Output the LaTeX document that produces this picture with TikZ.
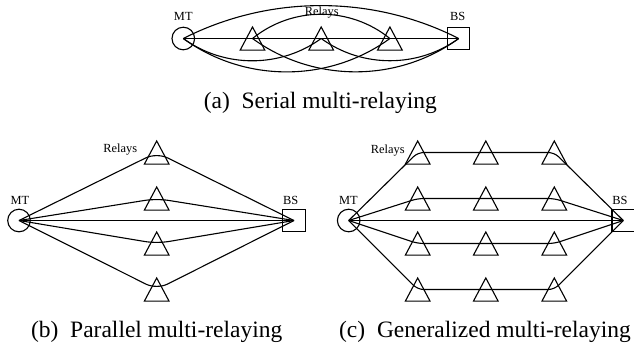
\documentclass[tikz,border=0pt]{standalone}
\usepackage{fontspec}
\setmainfont{Liberation Serif}
\begin{document}
\begin{tikzpicture}[x=0.5pt, y=-0.5pt, line width=0.55pt,
  mtnode/.style={circle, draw, minimum size=11.3pt, inner sep=0pt},
  bsnode/.style={rectangle, draw, minimum size=11.25pt, inner sep=0pt},
  relay/.style={rectangle, minimum width=11.75pt, minimum height=11pt, inner sep=0pt},
  lbl/.style={font=\fontsize{6.2}{7}\selectfont, inner sep=0pt, anchor=base},
  captext/.style={font=\fontsize{11.75}{14}\selectfont, inner sep=0pt, anchor=base},
  conn/.style={line width=0.55pt}]
\useasboundingbox (0,0) rectangle (634,345);

% ---------- (a) serial multi-relaying ----------
\node[mtnode] (mt1) at (183.3,38.5) {};
\node[bsnode] (bs1) at (458.7,38.5) {};
\node[relay] (r1) at (252.5,38.5) {};
\node[relay] (r2) at (321.2,38.5) {};
\node[relay] (r3) at (389.9,38.5) {};
\node[lbl] (mt1l) at (183.3,20.7) {MT};
\node[lbl] (bs1l) at (457.7,20.7) {BS};
\node[lbl] (rel1) at (321.7,15.5) {Relays};

\draw[conn] (mt1.center) -- (bs1.center);
\draw[conn] (mt1.center) to[bend left=27, looseness=0.9] (bs1.center);
\draw[conn] (r1.center) to[bend left=39, looseness=0.96] (r3.center);
\draw[conn] (mt1.center) to[bend right=36, looseness=0.94] (r2.center);
\draw[conn] (r2.center) to[bend right=36, looseness=0.94] (bs1.center);
\draw[conn] (mt1.center) to[bend right=36, looseness=0.94] (r3.center);
\draw[conn] (r1.center) to[bend right=36, looseness=0.94] (bs1.center);

\node[captext] (capa) at (320.3,108) {(a)\hspace{0.5em}Serial multi-relaying};

% ---------- (b) parallel multi-relaying ----------
\node[mtnode] (mt2) at (19,220.5) {};
\node[bsnode] (bs2) at (294,220.5) {};
\node[relay] (p1) at (156.7,152.5) {};
\node[relay] (p2) at (156.7,198.5) {};
\node[relay] (p3) at (156.7,243.5) {};
\node[relay] (p4) at (156.7,289.5) {};
\node[lbl] (mt2l) at (20,204) {MT};
\node[lbl] (bs2l) at (290.7,204) {BS};
\node[lbl] (rel2) at (120.3,152.7) {Relays};

\draw[conn] (mt2.center) -- (bs2.center);
\foreach \p in {p1,p2,p3,p4}
  \draw[conn, rounded corners=6pt] (mt2.center) -- (\p.center) -- (bs2.center);

\node[captext] (capb) at (156.7,337.5) {(b)\hspace{0.5em}Parallel multi-relaying};

% ---------- (c) generalized multi-relaying ----------
\node[mtnode] (mt3) at (348.7,220.5) {};
\node[bsnode] (bs3) at (623.3,220.5) {};
\foreach \i/\y in {1/152.5,2/198.5,3/243.5,4/289.5}
  \foreach \j/\x in {1/417.7,2/485.8,3/554.3}
    \node[relay] (g\i\j) at (\x,\y) {};
\node[lbl] (mt3l) at (348.5,204) {MT};
\node[lbl] (bs3l) at (620,204) {BS};
\node[lbl] (rel3) at (387.7,153) {Relays};

\draw[conn] (mt3.center) -- (bs3.center);
\foreach \i in {1,2,3,4}
  \draw[conn, rounded corners=3pt] (mt3.center) -- (g\i1.center) -- (g\i2.center)
    -- (g\i3.center) -- (bs3.center);

\node[captext] (capc) at (485,337.5) {(c)\hspace{0.5em}Generalized multi-relaying};

% relay triangles
\foreach \n in {r1,r2,r3,p1,p2,p3,p4,g11,g12,g13,g21,g22,g23,g31,g32,g33,g41,g42,g43}
  \draw (\n.south west) -- (\n.north) -- (\n.south east) -- cycle;
\end{tikzpicture}
\end{document}
